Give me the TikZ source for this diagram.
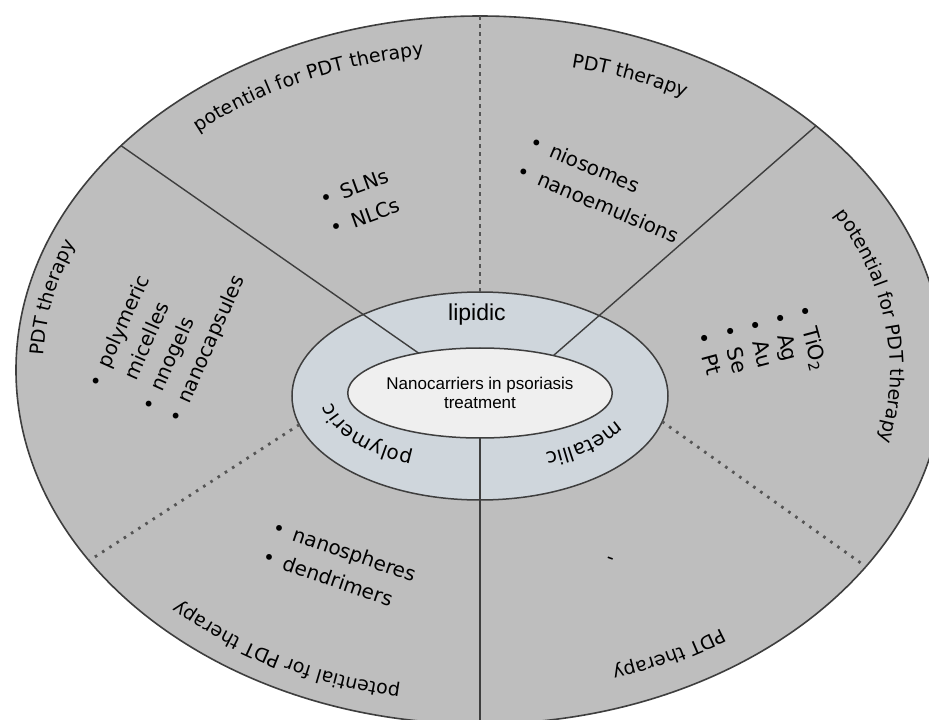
\documentclass[tikz,border=0pt]{standalone}
\usepackage{fontspec}
\setmainfont{DejaVu Sans}
\newfontfamily\arialfont{Liberation Sans}
\usetikzlibrary{shapes.geometric, decorations.text}
\definecolor{diskGray}{RGB}{190,190,190}
\definecolor{ringBlue}{RGB}{207,214,220}
\definecolor{coreWhite}{RGB}{239,239,239}
\definecolor{edgeDark}{RGB}{62,62,62}
\definecolor{dotGray}{RGB}{85,85,85}
\newcommand{\itm}{\textbullet\hspace{10pt}}
\newcommand{\lblfont}{\fontsize{19}{23}\selectfont}
\newcommand{\ringfont}{\fontsize{20}{24}\selectfont}
\tikzset{
    disk/.style={
        ellipse,
        draw=edgeDark,
        line width=1.6pt,
        fill=diskGray,
        inner sep=0pt,
        outer sep=0pt,
        minimum width=928pt,
        minimum height=708pt
    },
    ringzone/.style={
        ellipse,
        draw=edgeDark,
        line width=1.5pt,
        fill=ringBlue,
        inner sep=0pt,
        outer sep=0pt,
        minimum width=376pt,
        minimum height=208pt
    },
    corezone/.style={
        ellipse,
        draw=edgeDark,
        line width=1.5pt,
        fill=coreWhite,
        inner sep=0pt,
        outer sep=0pt,
        minimum width=264pt,
        minimum height=90pt,
        align=center,
        font=\arialfont\fontsize{17}{19}\selectfont
    },
    itemlist/.style={
        align=left,
        anchor=north west,
        inner sep=0pt,
        font=\fontsize{20}{31}\selectfont
    },
    divider/.style={line width=1.4pt, draw=edgeDark},
    topdash/.style={line width=1.1pt, draw=dotGray, dash pattern=on 4pt off 4pt},
    dotsep/.style={line width=2.8pt, draw=dotGray, dash pattern=on 2.6pt off 6pt},
    curvelabel/.style={decorate, decoration={text along path, text align=center, text={|\lblfont|#1}}},
    ringlabel/.style={decorate, decoration={text along path, text align=center, text={|\ringfont|#1}}}
}

\begin{document}
\begin{tikzpicture}[x=1pt, y=1pt]
    \useasboundingbox (-480,-350) rectangle (449,370);
    \clip (-480,-350) rectangle (449,370);
    \fill[white] (-480,-350) rectangle (449,370);

    \node[disk] (disk) at (0,0) {};
    \node[ringzone] (ring) at (0,-26) {};
    \node[corezone] (core) at (0,-23) {Nanocarriers in psoriasis\\treatment};

    \draw[divider] (core.147.6) -- (disk.148.2);
    \draw[divider] (core.27.8) -- (disk.36.4);
    \draw[divider] (core.south) -- (disk.south);
    \draw[topdash] (ring.north) -- (disk.north);
    \draw[dotsep] (ring.189) -- (disk.206.9);
    \draw[dotsep] (ring.352) -- (disk.333.4);

    \node[font=\arialfont\fontsize{23}{26}\selectfont] (lipidic) at (-3,55) {lipidic};
    \path[ringlabel=polymeric] ([shift={(0pt,-25pt)}]254:148pt and 65pt)
        arc[start angle=254, end angle=164, x radius=148pt, y radius=65pt];
    \path[ringlabel=metallic] ([shift={(0pt,-25pt)}]3:148pt and 65pt)
        arc[start angle=3, end angle=-77, x radius=148pt, y radius=65pt];

    \path[curvelabel=potential for PDT therapy] (140:426pt and 317pt)
        arc[start angle=140, end angle=90, x radius=426pt, y radius=317pt];
    \path[curvelabel=PDT therapy] (90:428pt and 310pt)
        arc[start angle=90, end angle=48, x radius=428pt, y radius=310pt];
    \path[curvelabel=potential for PDT therapy] (40:410pt and 310pt)
        arc[start angle=40, end angle=-24, x radius=410pt, y radius=310pt];
    \path[curvelabel=PDT therapy] (190:437pt and 330pt)
        arc[start angle=190, end angle=146, x radius=437pt, y radius=330pt];
    \path[curvelabel=potential for PDT therapy] (267:432pt and 322pt)
        arc[start angle=267, end angle=217, x radius=432pt, y radius=322pt];
    \path[curvelabel=PDT therapy] (318:425pt and 314pt)
        arc[start angle=318, end angle=276, x radius=425pt, y radius=314pt];

    \node[itemlist, rotate=20] (slnList) at (-162.2,177.6) {\itm SLNs\\\itm NLCs};
    \node[itemlist, rotate=-23] (nioList) at (53.9,236.6) {\itm niosomes\\\itm nanoemulsions};
    \node[itemlist, rotate=-75, font=\fontsize{21}{26}\selectfont] (metalList) at (332,66.7)
        {\itm TiO\textsubscript{2}\\\itm Ag\\\itm Au\\\itm Se\\\itm Pt};
    \node[itemlist, rotate=66, font=\fontsize{20}{29}\selectfont] (polyList) at (-393.4,-13.2)
        {\itm polymeric\\\hphantom{\itm}micelles\\\itm nnogels\\\itm nanocapsules};
    \node[itemlist, rotate=-19] (sphereList) at (-204,-148.4) {\itm nanospheres\\\itm dendrimers};
    \node[font=\fontsize{20}{24}\selectfont, rotate=-20] (blank) at (130,-191) {-};
\end{tikzpicture}
\end{document}
